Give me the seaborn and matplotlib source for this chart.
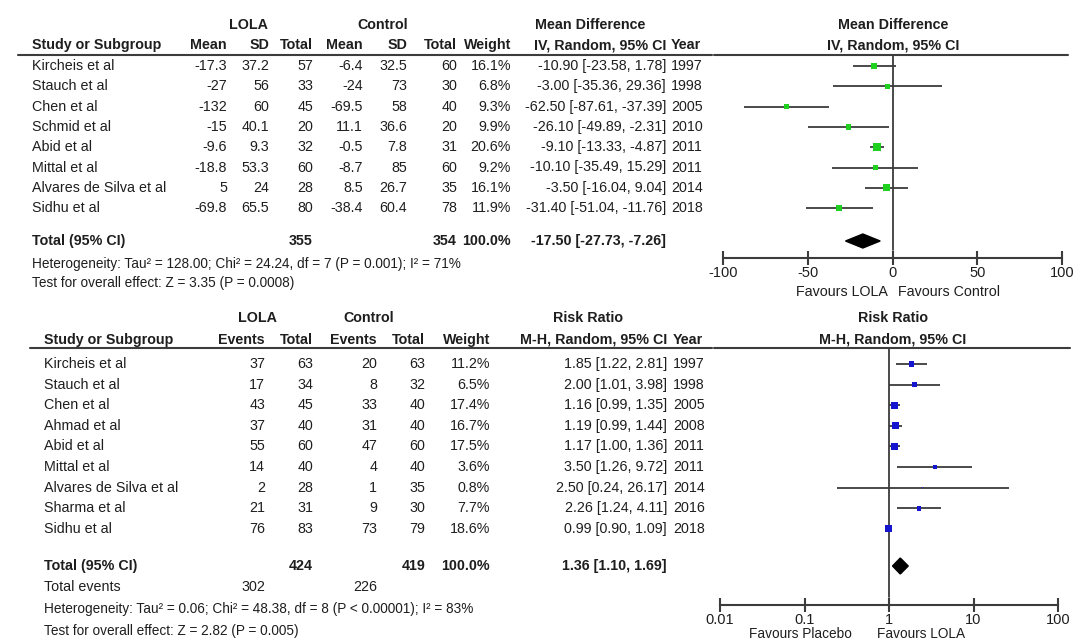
import numpy as np
import pandas as pd
import matplotlib
matplotlib.use('Agg')
import matplotlib.pyplot as plt
import seaborn as sns

# ---------------------- 数据: Mean Difference ----------------------
md_study = ['Kircheis et al', 'Stauch et al', 'Chen et al', 'Schmid et al', 'Abid et al',
            'Mittal et al', 'Alvares de Silva et al', 'Sidhu et al']
md_lola_mean = [-17.3, -27, -132, -15, -9.6, -18.8, 5, -69.8]
md_lola_sd = [37.2, 56, 60, 40.1, 9.3, 53.3, 24, 65.5]
md_lola_n = [57, 33, 45, 20, 32, 60, 28, 80]
md_ctrl_mean = [-6.4, -24, -69.5, 11.1, -0.5, -8.7, 8.5, -38.4]
md_ctrl_sd = [32.5, 73, 58, 36.6, 7.8, 85, 26.7, 60.4]
md_ctrl_n = [60, 30, 40, 20, 31, 60, 35, 78]
md_weight = [16.1, 6.8, 9.3, 9.9, 20.6, 9.2, 16.1, 11.9]
md_est = [-10.90, -3.00, -62.50, -26.10, -9.10, -10.10, -3.50, -31.40]
md_lo = [-23.58, -35.36, -87.61, -49.89, -13.33, -35.49, -16.04, -51.04]
md_hi = [1.78, 29.36, -37.39, -2.31, -4.87, 15.29, 9.04, -11.76]
md_year = [1997, 1998, 2005, 2010, 2011, 2011, 2014, 2018]
md_total_n = [355, 354]
md_total = [-17.50, -27.73, -7.26]
md_ticks = [-100, -50, 0, 50, 100]
md_het = 'Heterogeneity: Tau² = 128.00; Chi² = 24.24, df = 7 (P = 0.001); I² = 71%'
md_test = 'Test for overall effect: Z = 3.35 (P = 0.0008)'

# ---------------------- 数据: Risk Ratio ----------------------
rr_study = ['Kircheis et al', 'Stauch et al', 'Chen et al', 'Ahmad et al', 'Abid et al',
            'Mittal et al', 'Alvares de Silva et al', 'Sharma et al', 'Sidhu et al']
rr_lola_ev = [37, 17, 43, 37, 55, 14, 2, 21, 76]
rr_lola_n = [63, 34, 45, 40, 60, 40, 28, 31, 83]
rr_ctrl_ev = [20, 8, 33, 31, 47, 4, 1, 9, 73]
rr_ctrl_n = [63, 32, 40, 40, 60, 40, 35, 30, 79]
rr_weight = [11.2, 6.5, 17.4, 16.7, 17.5, 3.6, 0.8, 7.7, 18.6]
rr_est = [1.85, 2.00, 1.16, 1.19, 1.17, 3.50, 2.50, 2.26, 0.99]
rr_lo = [1.22, 1.01, 0.99, 0.99, 1.00, 1.26, 0.24, 1.24, 0.90]
rr_hi = [2.81, 3.98, 1.35, 1.44, 1.36, 9.72, 26.17, 4.11, 1.09]
rr_year = [1997, 1998, 2005, 2008, 2011, 2011, 2014, 2016, 2018]
rr_total_n = [424, 419]
rr_total_ev = [302, 226]
rr_total = [1.36, 1.10, 1.69]
rr_ticks = [0.01, 0.1, 1, 10, 100]
rr_tick_labels = ['0.01', '0.1', '1', '10', '100']
rr_het = 'Heterogeneity: Tau² = 0.06; Chi² = 48.38, df = 8 (P < 0.00001); I² = 83%'
rr_test = 'Test for overall effect: Z = 2.82 (P = 0.005)'

sns.set_style('white')
plt.rcParams['font.family'] = ['Liberation Sans', 'DejaVu Sans']

W, H = 1080, 643
TXT = '#1e1e1e'
LINE = '#3c3c3c'
FS = 10.3

fig = plt.figure(figsize=(W / 100, H / 100), dpi=100)
bg = fig.add_axes([0, 0, 1, 1])
bg.set_xlim(0, W)
bg.set_ylim(H, 0)
bg.axis('off')


def txt(x, y, s, ha='left', bold=False, size=FS):
    bg.text(x, y, s, ha=ha, va='center', fontsize=size, color=TXT,
            fontweight='bold' if bold else 'normal')


def forest_axes(x0, x1, y0, y1):
    ax = fig.add_axes([x0 / W, 1 - y1 / H, (x1 - x0) / W, (y1 - y0) / H])
    ax.set_ylim(y1, y0)
    ax.patch.set_alpha(0)
    for side in ['top', 'right', 'left']:
        ax.spines[side].set_visible(False)
    ax.spines['bottom'].set_color(LINE)
    ax.spines['bottom'].set_linewidth(1.5)
    ax.set_yticks([])
    ax.tick_params(axis='x', bottom=True, direction='inout', length=10, width=1.5, color=LINE,
                   labelsize=10.5, labelcolor=TXT, pad=1)
    return ax


# ---------------------- 上图: Mean Difference ----------------------
y0, dy = 66, 20.3
txt(248, 25, 'LOLA', 'center', True)
txt(383, 25, 'Control', 'center', True)
txt(590, 25, 'Mean Difference', 'center', True)
txt(893, 25, 'Mean Difference', 'center', True)
txt(32, 45, 'Study or Subgroup', bold=True)
for x, s in zip([227, 269, 313, 363, 407, 457, 511, 666],
                ['Mean', 'SD', 'Total', 'Mean', 'SD', 'Total', 'Weight', 'IV, Random, 95% CI']):
    txt(x, 45, s, 'right', True)
txt(671, 45, 'Year', bold=True)
txt(893, 45, 'IV, Random, 95% CI', 'center', True)
bg.plot([18, 712], [55, 55], color=LINE, lw=1.5)
bg.plot([714, 1068], [55, 55], color=LINE, lw=1.5)

for i in range(len(md_study)):
    y = y0 + i * dy
    txt(32, y, md_study[i])
    row = [f'{md_lola_mean[i]:g}', f'{md_lola_sd[i]:g}', f'{md_lola_n[i]}',
           f'{md_ctrl_mean[i]:g}', f'{md_ctrl_sd[i]:g}', f'{md_ctrl_n[i]}',
           f'{md_weight[i]:.1f}%',
           f'{md_est[i]:.2f} [{md_lo[i]:.2f}, {md_hi[i]:.2f}]']
    for x, s in zip([227, 269, 313, 363, 407, 457, 511, 666], row):
        txt(x, y, s, 'right')
    txt(671, y, str(md_year[i]))

yt = 241
txt(32, yt, 'Total (95% CI)', bold=True)
txt(313, yt, str(md_total_n[0]), 'right', True)
txt(457, yt, str(md_total_n[1]), 'right', True)
txt(511, yt, '100.0%', 'right', True)
txt(666, yt, f'{md_total[0]:.2f} [{md_total[1]:.2f}, {md_total[2]:.2f}]', 'right', True)
txt(32, 264, md_het, size=9.8)
txt(32, 283, md_test, size=9.8)

ax1 = forest_axes(723, 1062, 55, 258)
ax1.set_xlim(-100, 100)
ax1.axvline(0, ymin=0.04, ymax=1, color=LINE, lw=1.3)
ys = [y0 + i * dy for i in range(len(md_study))]
ax1.hlines(ys, md_lo, md_hi, color=LINE, lw=1.3)
md_df = pd.DataFrame({'est': md_est, 'y': ys, 'w': md_weight})
sns.scatterplot(data=md_df, x='est', y='y', size='w', sizes=(0, 32), size_norm=(0, 21),
                marker='s', color='#1fd01f', edgecolor='none', legend=False, ax=ax1, zorder=3)
ax1.fill([md_total[1], md_total[0], md_total[2], md_total[0]],
         [yt, yt - 7, yt, yt + 7], color='black', zorder=3)
ax1.set_xticks(md_ticks)
ax1.set_xticklabels([str(t) for t in md_ticks])
ax1.set_xlabel('')
ax1.set_ylabel('')
txt(888, 292, 'Favours LOLA', 'right')
txt(898, 292, 'Favours Control', 'left')

# ---------------------- 下图: Risk Ratio ----------------------
y0b, dyb = 364, 20.6
txt(257, 318, 'LOLA', 'center', True)
txt(369, 318, 'Control', 'center', True)
txt(588, 318, 'Risk Ratio', 'center', True)
txt(893, 318, 'Risk Ratio', 'center', True)
txt(44, 340, 'Study or Subgroup', bold=True)
for x, s in zip([265, 313, 377, 425, 490, 667],
                ['Events', 'Total', 'Events', 'Total', 'Weight', 'M-H, Random, 95% CI']):
    txt(x, 340, s, 'right', True)
txt(673, 340, 'Year', bold=True)
txt(893, 340, 'M-H, Random, 95% CI', 'center', True)
bg.plot([30, 712], [348, 348], color=LINE, lw=1.5)
bg.plot([714, 1070], [348, 348], color=LINE, lw=1.5)

for i in range(len(rr_study)):
    y = y0b + i * dyb
    txt(44, y, rr_study[i])
    row = [str(rr_lola_ev[i]), str(rr_lola_n[i]), str(rr_ctrl_ev[i]), str(rr_ctrl_n[i]),
           f'{rr_weight[i]:.1f}%',
           f'{rr_est[i]:.2f} [{rr_lo[i]:.2f}, {rr_hi[i]:.2f}]']
    for x, s in zip([265, 313, 377, 425, 490, 667], row):
        txt(x, y, s, 'right')
    txt(673, y, str(rr_year[i]))

ytb = 566
txt(44, ytb, 'Total (95% CI)', bold=True)
txt(313, ytb, str(rr_total_n[0]), 'right', True)
txt(425, ytb, str(rr_total_n[1]), 'right', True)
txt(490, ytb, '100.0%', 'right', True)
txt(667, ytb, f'{rr_total[0]:.2f} [{rr_total[1]:.2f}, {rr_total[2]:.2f}]', 'right', True)
txt(44, 587, 'Total events')
txt(265, 587, str(rr_total_ev[0]), 'right')
txt(377, 587, str(rr_total_ev[1]), 'right')
txt(44, 609, rr_het, size=9.8)
txt(44, 631, rr_test, size=9.8)

ax2 = forest_axes(720, 1058, 348, 605)
ax2.set_xscale('log')
ax2.set_xlim(0.01, 100)
ax2.axvline(1, ymin=0.03, ymax=1, color=LINE, lw=1.3)
ysb = [y0b + i * dyb for i in range(len(rr_study))]
ax2.hlines(ysb, rr_lo, rr_hi, color=LINE, lw=1.3)
rr_df = pd.DataFrame({'est': rr_est, 'y': ysb, 'w': rr_weight})
sns.scatterplot(data=rr_df, x='est', y='y', size='w', sizes=(0, 32), size_norm=(0, 21),
                marker='s', color='#1515d0', edgecolor='none', legend=False, ax=ax2, zorder=3)
ax2.fill([rr_total[1], rr_total[0], rr_total[2], rr_total[0]],
         [ytb, ytb - 8, ytb, ytb + 8], color='black', zorder=3)
ax2.set_xticks(rr_ticks)
ax2.set_xticklabels(rr_tick_labels)
ax2.minorticks_off()
ax2.set_xlabel('')
ax2.set_ylabel('')
txt(852, 634, 'Favours Placebo', 'right', size=9.8)
txt(877, 634, 'Favours LOLA', 'left', size=9.8)

fig.savefig('out.png', dpi=100)
